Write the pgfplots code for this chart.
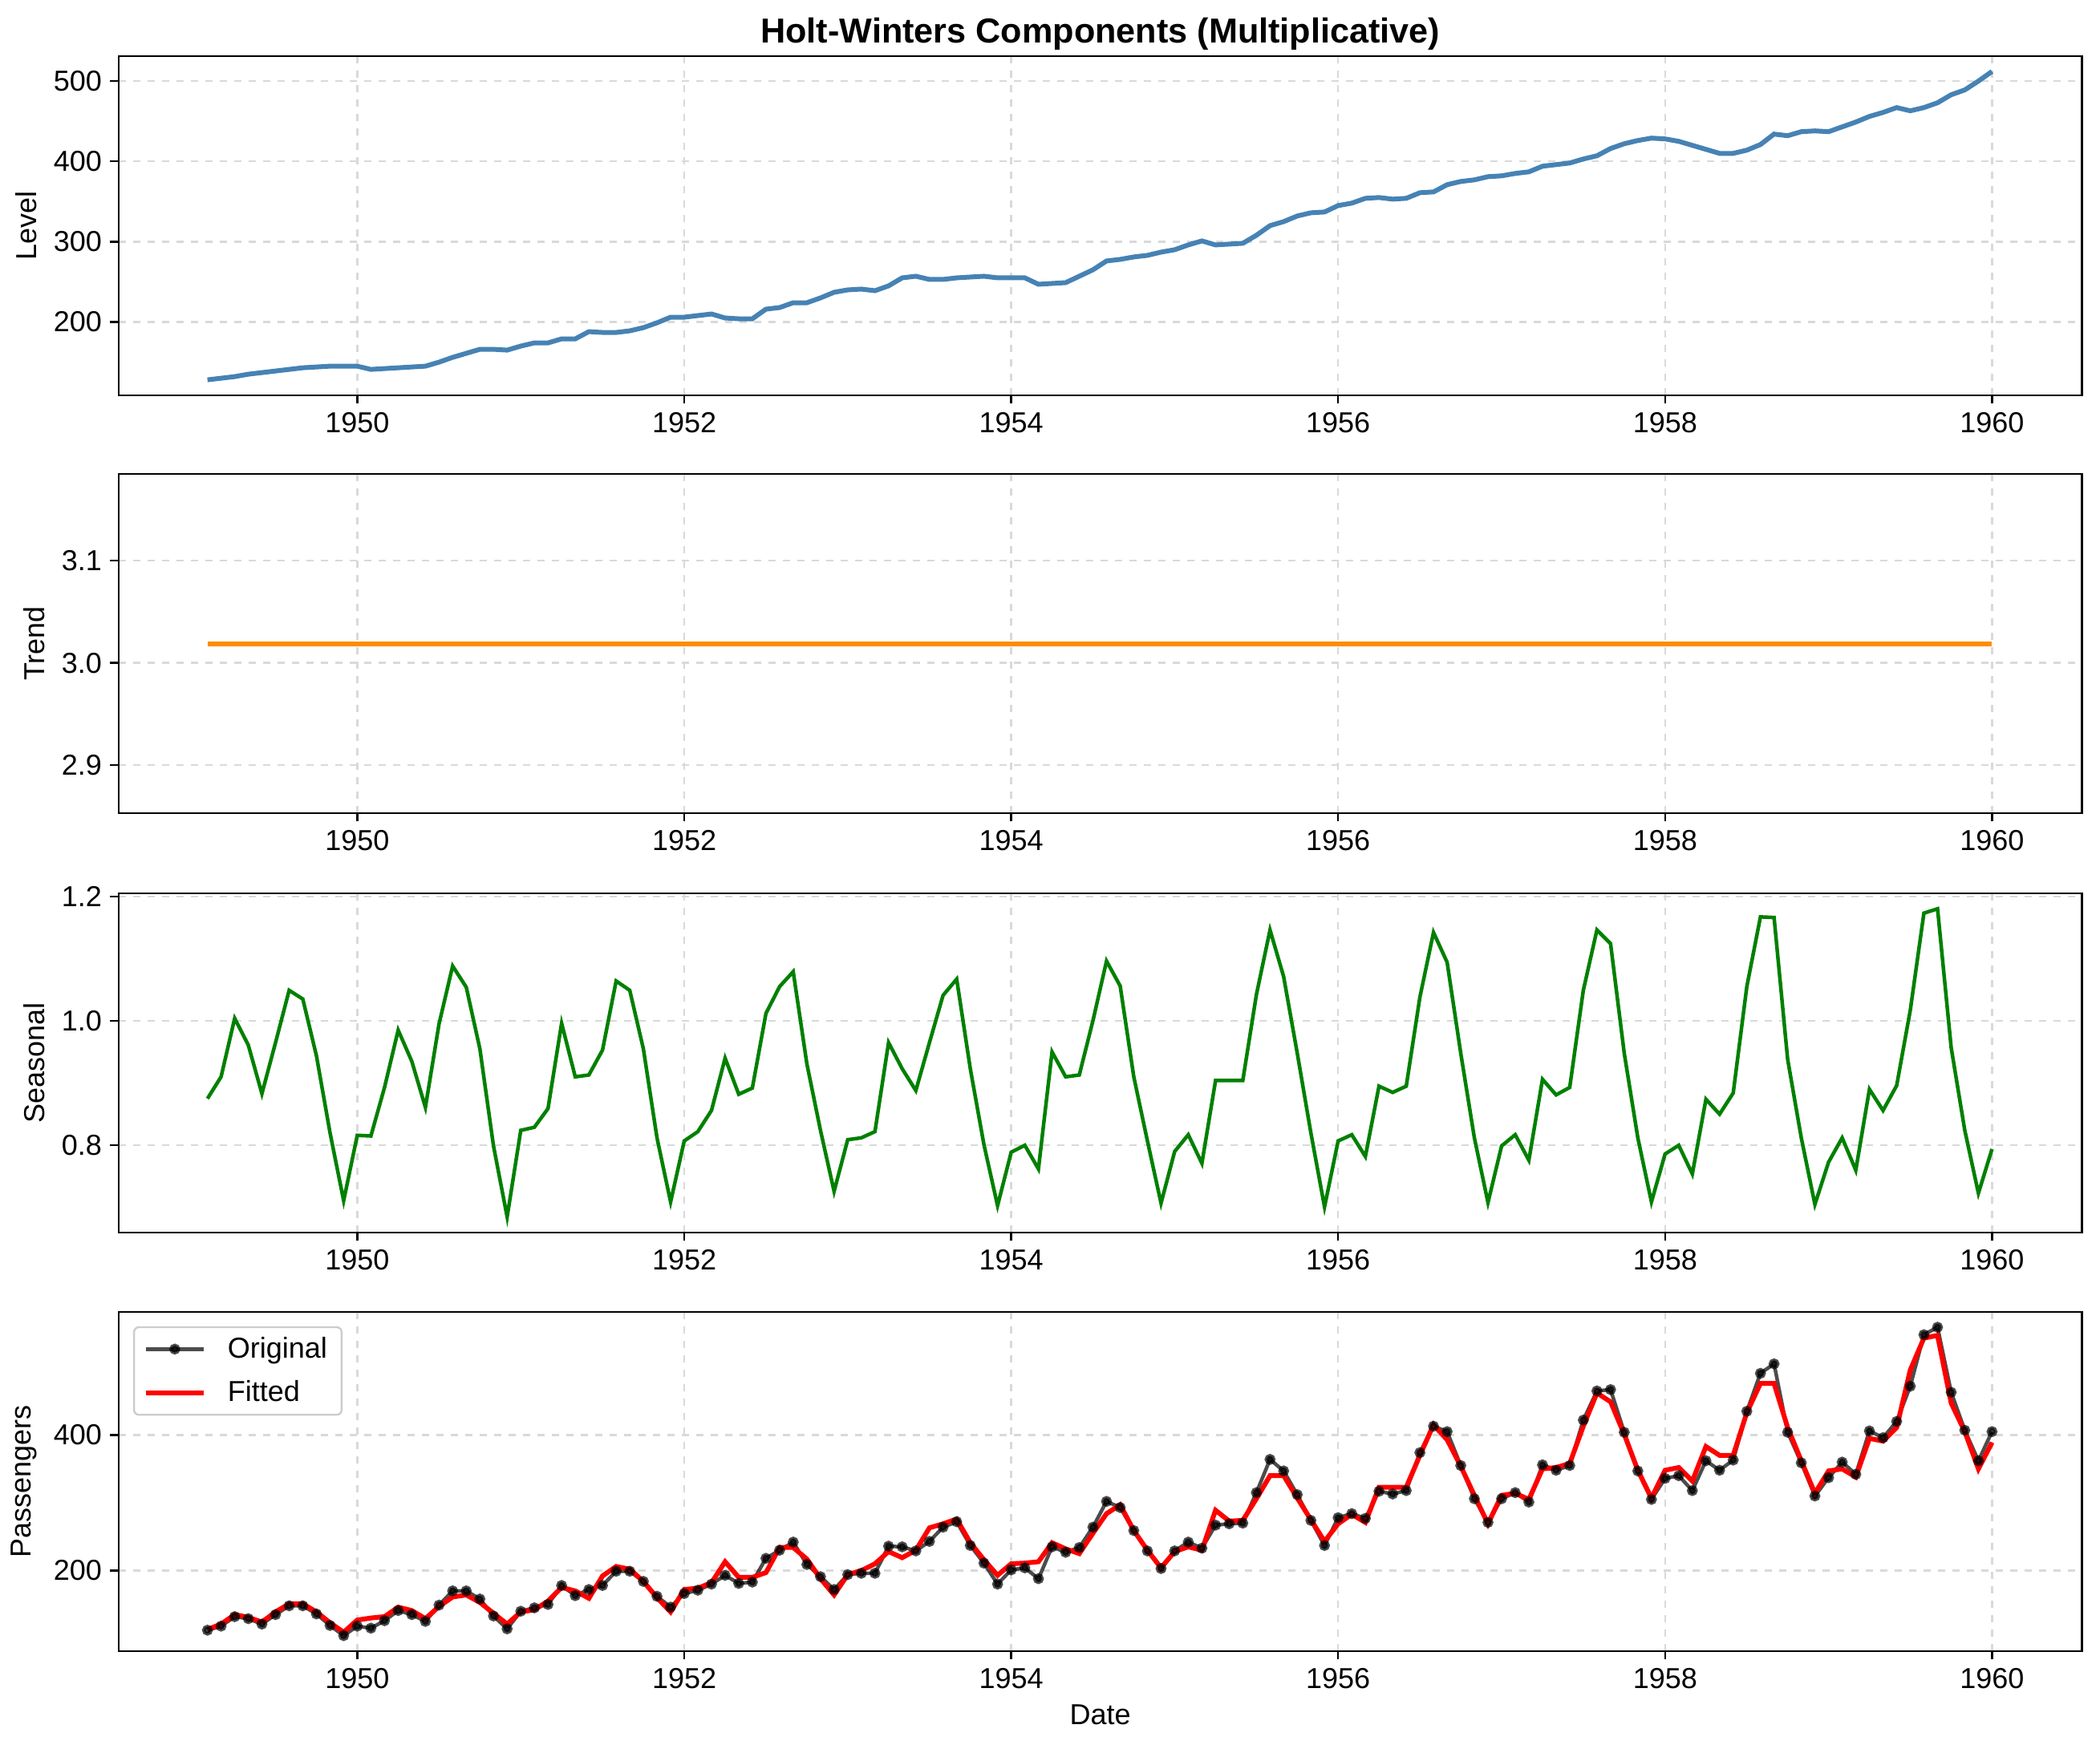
\documentclass[border=0pt]{standalone}
\usepackage{pgfplots}
\usepackage{pgfplotstable}
\pgfplotsset{compat=1.18}
\usepackage{fontspec}
\setmainfont{Liberation Sans}

\definecolor{steel}{HTML}{4682B4}
\definecolor{dorange}{HTML}{FF8C00}
\definecolor{mplgreen}{HTML}{008000}
\definecolor{gridgray}{HTML}{D9D9D9}
\definecolor{legedge}{HTML}{CCCCCC}

% month index, level, trend, seasonal, original, fitted
\pgfplotstableread{
m level trend season orig fitted
1 128 3.0185 0.875 112 113
2 130 3.0185 0.910 118 121
3 132 3.0185 1.004 132 135
4 135 3.0185 0.961 129 131
5 137 3.0185 0.883 121 124
6 139 3.0185 0.965 135 139
7 141 3.0185 1.049 148 151
8 143 3.0185 1.035 148 151
9 144 3.0185 0.944 136 139
10 145 3.0185 0.820 119 123
11 145 3.0185 0.711 104 109
12 145 3.0185 0.816 118 127
13 141 3.0185 0.815 115 130
14 142 3.0185 0.893 126 132
15 143 3.0185 0.985 141 146
16 144 3.0185 0.935 135 141
17 145 3.0185 0.861 125 129
18 150 3.0185 0.995 149 147
19 156 3.0185 1.088 170 161
20 161 3.0185 1.054 170 164
21 166 3.0185 0.955 158 153
22 166 3.0185 0.799 133 137
23 165 3.0185 0.685 114 121
24 170 3.0185 0.824 140 139
25 174 3.0185 0.829 145 142
26 174 3.0185 0.859 150 155
27 179 3.0185 0.996 178 175
28 179 3.0185 0.910 163 170
29 188 3.0185 0.913 172 159
30 187 3.0185 0.953 178 192
31 187 3.0185 1.064 199 206
32 189 3.0185 1.049 199 202
33 193 3.0185 0.955 184 184
34 199 3.0185 0.812 162 160
35 206 3.0185 0.709 146 139
36 206 3.0185 0.807 166 172
37 208 3.0185 0.822 171 174
38 210 3.0185 0.856 180 182
39 205 3.0185 0.940 193 213
40 204 3.0185 0.882 181 190
41 204 3.0185 0.892 183 190
42 216 3.0185 1.012 218 197
43 218 3.0185 1.055 230 234
44 224 3.0185 1.079 242 234
45 224 3.0185 0.931 209 217
46 230 3.0185 0.824 191 188
47 237 3.0185 0.726 172 164
48 240 3.0185 0.809 194 194
49 241 3.0185 0.812 196 200
50 239 3.0185 0.822 196 210
51 245 3.0185 0.965 236 228
52 255 3.0185 0.923 235 219
53 257 3.0185 0.888 229 230
54 253 3.0185 0.965 243 263
55 253 3.0185 1.041 264 269
56 255 3.0185 1.067 272 276
57 256 3.0185 0.923 237 241
58 257 3.0185 0.801 211 216
59 255 3.0185 0.703 180 193
60 255 3.0185 0.789 201 210
61 255 3.0185 0.800 204 211
62 247 3.0185 0.762 188 213
63 248 3.0185 0.950 235 241
64 249 3.0185 0.910 227 232
65 257 3.0185 0.913 234 225
66 265 3.0185 1.000 264 255
67 276 3.0185 1.096 302 284
68 278 3.0185 1.056 293 297
69 281 3.0185 0.910 259 259
70 283 3.0185 0.807 229 230
71 287 3.0185 0.707 203 204
72 290 3.0185 0.790 229 228
73 296 3.0185 0.817 242 235
74 301 3.0185 0.771 233 230
75 296 3.0185 0.904 267 289
76 297 3.0185 0.904 269 273
77 298 3.0185 0.904 270 274
78 308 3.0185 1.042 315 306
79 320 3.0185 1.146 364 340
80 325 3.0185 1.071 347 340
81 332 3.0185 0.948 312 307
82 336 3.0185 0.820 274 275
83 337 3.0185 0.701 237 243
84 345 3.0185 0.807 278 269
85 348 3.0185 0.817 284 283
86 354 3.0185 0.782 277 271
87 355 3.0185 0.895 317 323
88 353 3.0185 0.885 313 323
89 354 3.0185 0.895 318 323
90 361 3.0185 1.038 374 370
91 362 3.0185 1.142 413 415
92 371 3.0185 1.094 405 393
93 375 3.0185 0.948 355 354
94 377 3.0185 0.812 306 311
95 381 3.0185 0.708 271 269
96 382 3.0185 0.799 306 311
97 385 3.0185 0.817 315 314
98 387 3.0185 0.776 301 305
99 394 3.0185 0.906 356 350
100 396 3.0185 0.881 348 352
101 398 3.0185 0.893 355 358
102 403 3.0185 1.049 422 413
103 407 3.0185 1.146 465 462
104 416 3.0185 1.124 467 449
105 422 3.0185 0.948 404 401
106 426 3.0185 0.812 347 348
107 429 3.0185 0.709 305 307
108 428 3.0185 0.786 336 348
109 425 3.0185 0.800 340 352
110 420 3.0185 0.754 318 332
111 415 3.0185 0.874 362 383
112 410 3.0185 0.850 348 370
113 410 3.0185 0.884 363 370
114 414 3.0185 1.055 435 433
115 421 3.0185 1.167 491 476
116 434 3.0185 1.166 505 476
117 432 3.0185 0.938 404 411
118 437 3.0185 0.812 359 362
119 438 3.0185 0.705 310 314
120 437 3.0185 0.773 337 347
121 443 3.0185 0.812 360 350
122 449 3.0185 0.760 342 338
123 456 3.0185 0.890 406 395
124 461 3.0185 0.856 396 391
125 467 3.0185 0.896 420 411
126 463 3.0185 1.017 472 496
127 467 3.0185 1.173 548 543
128 473 3.0185 1.180 559 547
129 483 3.0185 0.957 463 447
130 489 3.0185 0.824 407 405
131 500 3.0185 0.723 362 350
132 512 3.0185 0.794 405 389
}\hw

\pgfplotsset{
  hwpanel/.style={
    width=815.9pt, height=141pt, scale only axis,
    xmin=1948.54, xmax=1960.55,
    xtick={1950,1952,...,1960},
    tick pos=left, tick align=outside,
    major tick length=3.5pt,
    tick style={black, line width=0.8pt},
    axis line style={line width=0.8pt},
    grid=major,
    grid style={gridgray, dashed, line width=0.8pt},
    ticklabel style={font=\fontsize{12}{14}\selectfont},
    label style={font=\fontsize{12}{14}\selectfont},
    /pgf/number format/assume math mode=true,
    xticklabel style={/pgf/number format/1000 sep={}},
  },
}

\begin{document}
\begin{tikzpicture}
\useasboundingbox (0,0) rectangle (872.7pt,-727pt);

\begin{axis}[hwpanel,
    at={(49.3pt,-23.3pt)}, anchor=north west,
    ymin=108.8, ymax=531.2, ytick={200,300,400,500},
    ylabel={Level},
    title={Holt-Winters Components (Multiplicative)},
    title style={font=\fontsize{14.4}{16}\selectfont\bfseries, at={(0.5,1)}, anchor=base, yshift=-0.5pt},
    ]
\addplot[steel, line width=2pt] table[x expr={1949+\thisrow{m}/12}, y=level] {\hw};
\end{axis}

\begin{axis}[hwpanel,
    at={(49.3pt,-197pt)}, anchor=north west,
    ymin=2.853, ymax=3.185, ytick={2.9,3.0,3.1},
    yticklabel style={/pgf/number format/.cd, fixed, fixed zerofill, precision=1},
    ylabel={Trend},
    ]
\addplot[dorange, line width=2pt] table[x expr={1949+\thisrow{m}/12}, y=trend] {\hw};
\end{axis}

\begin{axis}[hwpanel,
    at={(49.3pt,-371.3pt)}, anchor=north west,
    ymin=0.660, ymax=1.205, ytick={0.8,1.0,1.2},
    yticklabel style={/pgf/number format/.cd, fixed, fixed zerofill, precision=1},
    ylabel={Seasonal},
    ]
\addplot[mplgreen, line width=1.5pt] table[x expr={1949+\thisrow{m}/12}, y=season] {\hw};
\end{axis}

\begin{axis}[hwpanel,
    at={(49.3pt,-545.3pt)}, anchor=north west,
    ymin=81.25, ymax=581.75, ytick={200,400},
    ylabel={Passengers}, xlabel={Date},
    legend style={at={(0,1)}, anchor=north west, xshift=6pt, yshift=-6pt,
        draw=legedge, rounded corners=2pt, line width=0.8pt,
        font=\fontsize{12}{14}\selectfont, row sep=4pt,
        /tikz/every odd column/.append style={column sep=7pt},
        inner xsep=4pt},
    legend cell align=left,
    legend image code/.code={
        \draw[mark repeat=2, mark phase=2, #1] plot coordinates {(0cm,0cm) (0.42cm,0cm) (0.84cm,0cm)};},
    ]
\addplot[black, opacity=0.7, line width=1.5pt, mark=*, mark size=1.5pt]
    table[x expr={1949+\thisrow{m}/12}, y=orig] {\hw};
\addlegendentry{Original}
\addplot[red, line width=2pt] table[x expr={1949+\thisrow{m}/12}, y=fitted] {\hw};
\addlegendentry{Fitted}
\end{axis}
\end{tikzpicture}
\end{document}
